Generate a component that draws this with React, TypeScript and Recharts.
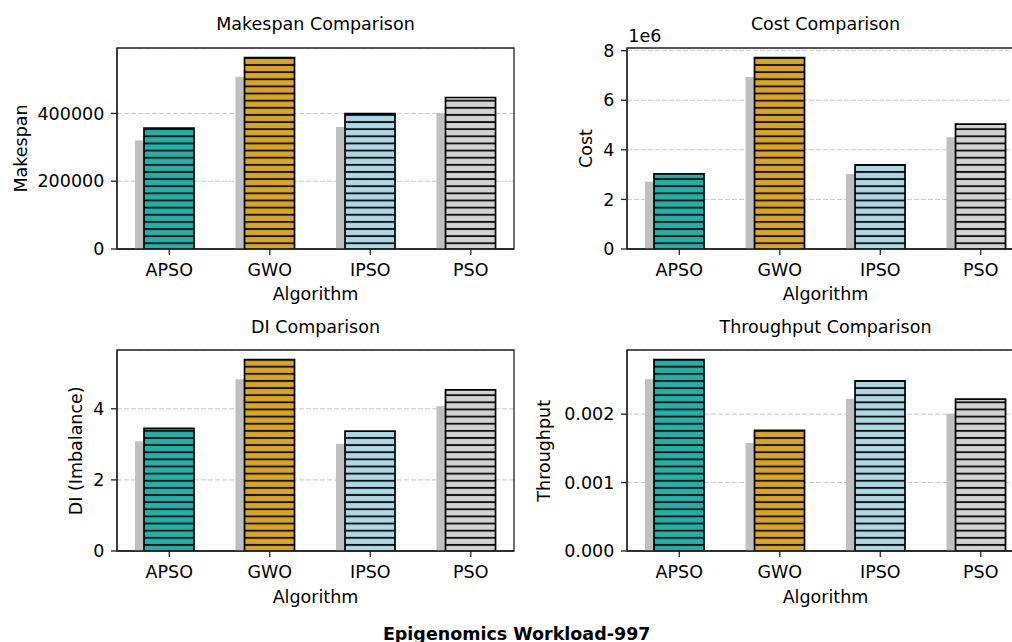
import React from 'react';
import { BarChart, Bar, XAxis, YAxis, CartesianGrid, Cell, ReferenceArea } from 'recharts';

const categories = ['APSO', 'GWO', 'IPSO', 'PSO'];
const barColors = ['#20B2AA', '#DAA520', '#ADD8E6', '#D3D3D3'];

const makespan = [356800, 564700, 399500, 447000];
const makespanShadow = [320000, 508000, 359700, 401000];
const makespanTicks = [0, 200000, 400000];

const cost = [3030000, 7720000, 3390000, 5040000];
const costShadow = [2710000, 6940000, 3020000, 4510000];
const costTicks = [0, 2000000, 4000000, 6000000, 8000000];

const di = [3.45, 5.385, 3.37, 4.53];
const diShadow = [3.09, 4.83, 3.02, 4.07];
const diTicks = [0, 2, 4];

const throughput = [0.002797, 0.001763, 0.002485, 0.002218];
const throughputShadow = [0.00251, 0.001578, 0.002223, 0.002004];
const throughputTicks = [0, 0.001, 0.002];

const FONT = '"DejaVu Sans", sans-serif';
const FS = 17.5;
const X_MIN = -0.52;
const X_MAX = 3.43;
const SHADOW_SHIFT = 0.09;
const HATCH = 7.13;
const AXIS = '#222';

type PanelProps = {
  id: string;
  values: number[];
  shadows: number[];
  yMax: number;
  yTicks: number[];
  fmt: (v: number) => string;
  left: number;
  top: number;
  hatchY: number;
};

function Panel(p: PanelProps) {
  const data = categories.map((name, i) => ({ idx: i, name, value: p.values[i], shadow: p.shadows[i] }));
  const tickStyle = { fill: '#000', fontSize: FS, fontFamily: FONT };
  return (
    <div style={{ position: 'absolute', left: p.left, top: p.top }}>
      <BarChart width={530} height={310} data={data} margin={{ top: 48, right: 16, bottom: 31, left: 0 }}>
        <defs>
          {barColors.map((c, i) => (
            <pattern
              key={i}
              id={`${p.id}-h${i}`}
              patternUnits="userSpaceOnUse"
              x={0}
              y={p.hatchY}
              width={10}
              height={HATCH}
            >
              <rect x={0} y={0} width={10} height={HATCH} fill={c} />
              <line x1={0} x2={10} y1={HATCH / 2} y2={HATCH / 2} stroke="#111" strokeWidth={1.9} />
            </pattern>
          ))}
        </defs>
        <CartesianGrid vertical={false} stroke="#c8c8c8" strokeDasharray="5 2" strokeWidth={1} />
        <XAxis
          dataKey="idx"
          type="number"
          domain={[X_MIN, X_MAX]}
          allowDataOverflow
          ticks={[0, 1, 2, 3]}
          interval={0}
          tickFormatter={(v: number) => categories[v]}
          height={30}
          tickSize={6}
          tickMargin={9}
          axisLine={{ stroke: AXIS, strokeWidth: 1.3 }}
          tickLine={{ stroke: AXIS, strokeWidth: 1.3 }}
          tick={tickStyle}
        />
        <XAxis
          xAxisId="shadow"
          dataKey="idx"
          type="number"
          domain={[X_MIN + SHADOW_SHIFT, X_MAX + SHADOW_SHIFT]}
          allowDataOverflow
          hide
        />
        <YAxis
          type="number"
          domain={[0, p.yMax]}
          allowDataOverflow
          ticks={p.yTicks}
          interval={0}
          tickFormatter={p.fmt}
          width={117}
          tickSize={6}
          tickMargin={6.7}
          axisLine={{ stroke: AXIS, strokeWidth: 1.3 }}
          tickLine={{ stroke: AXIS, strokeWidth: 1.3 }}
          tick={tickStyle}
        />
        <Bar xAxisId="shadow" dataKey="shadow" barSize={50} fill="#c0c0c0" isAnimationActive={false} />
        <Bar dataKey="value" barSize={50} stroke="#000" strokeWidth={1.7} isAnimationActive={false}>
          {data.map((d, i) => (
            <Cell key={d.name} fill={`url(#${p.id}-h${i})`} />
          ))}
        </Bar>
        <ReferenceArea
          x1={X_MIN}
          x2={X_MAX}
          y1={0}
          y2={p.yMax}
          fill="none"
          fillOpacity={0}
          stroke={AXIS}
          strokeWidth={1.3}
          ifOverflow="visible"
        />
      </BarChart>
    </div>
  );
}

const textStyle: React.CSSProperties = { fontFamily: FONT, fontSize: FS, fill: '#000' };

export default function App() {
  return (
    <div
      style={{
        position: 'absolute',
        left: 0,
        top: 0,
        width: 1012,
        height: 642,
        overflow: 'hidden',
        background: '#fff',
      }}
    >
      <Panel
        id="mk"
        values={makespan}
        shadows={makespanShadow}
        yMax={593000}
        yTicks={makespanTicks}
        fmt={(v) => String(v)}
        left={0}
        top={0}
        hatchY={4.4}
      />
      <Panel
        id="co"
        values={cost}
        shadows={costShadow}
        yMax={8106000}
        yTicks={costTicks}
        fmt={(v) => String(Math.round(v / 1e6))}
        left={510}
        top={0}
        hatchY={4.4}
      />
      <Panel
        id="di"
        values={di}
        shadows={diShadow}
        yMax={5.654}
        yTicks={diTicks}
        fmt={(v) => String(v)}
        left={0}
        top={302.3}
        hatchY={4.06}
      />
      <Panel
        id="tp"
        values={throughput}
        shadows={throughputShadow}
        yMax={0.002937}
        yTicks={throughputTicks}
        fmt={(v) => v.toFixed(3)}
        left={510}
        top={302.3}
        hatchY={4.06}
      />
      <svg
        width={1012}
        height={642}
        style={{ position: 'absolute', left: 0, top: 0, pointerEvents: 'none' }}
      >
        <text x={315.5} y={30} textAnchor="middle" style={textStyle}>Makespan Comparison</text>
        <text x={825.5} y={30} textAnchor="middle" style={textStyle}>Cost Comparison</text>
        <text x={315.5} y={332.5} textAnchor="middle" style={textStyle}>DI Comparison</text>
        <text x={825.5} y={332.5} textAnchor="middle" style={textStyle}>Throughput Comparison</text>

        <text x={315.5} y={300} textAnchor="middle" style={textStyle}>Algorithm</text>
        <text x={825.5} y={300} textAnchor="middle" style={textStyle}>Algorithm</text>
        <text x={315.5} y={602.5} textAnchor="middle" style={textStyle}>Algorithm</text>
        <text x={825.5} y={602.5} textAnchor="middle" style={textStyle}>Algorithm</text>

        <text x={26.7} y={148.5} textAnchor="middle" transform="rotate(-90 26.7 148.5)" style={textStyle}>Makespan</text>
        <text x={591.5} y={148.5} textAnchor="middle" transform="rotate(-90 591.5 148.5)" style={textStyle}>Cost</text>
        <text x={82.2} y={450.8} textAnchor="middle" transform="rotate(-90 82.2 450.8)" style={textStyle}>DI (Imbalance)</text>
        <text x={550} y={450.8} textAnchor="middle" transform="rotate(-90 550 450.8)" style={textStyle}>Throughput</text>

        <text x={628.3} y={42} style={textStyle}>1e6</text>

        <text x={516.7} y={640} textAnchor="middle" style={{ ...textStyle, fontWeight: 'bold' }}>Epigenomics Workload-997</text>
      </svg>
    </div>
  );
}
